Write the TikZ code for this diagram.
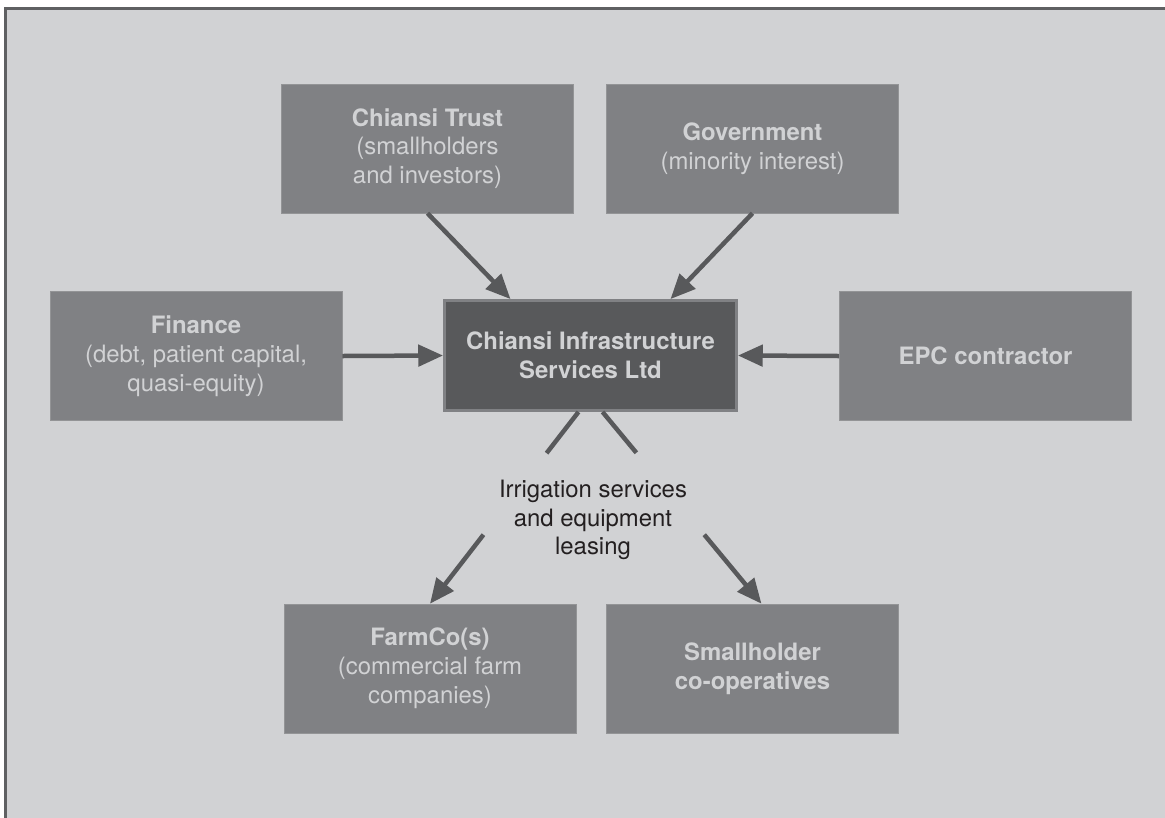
\documentclass[tikz,border=0pt]{standalone}
\usepackage{fontspec}
\setmainfont{TeX Gyre Heros}
\usetikzlibrary{arrows.meta,calc}
\definecolor{panelgray}{HTML}{D1D2D4}
\definecolor{boxgray}{HTML}{808184}
\definecolor{hubgray}{HTML}{58595B}
\definecolor{framegray}{HTML}{5F6062}
\definecolor{inkgray}{HTML}{231F20}
\tikzset{
  party/.style={rectangle, fill=boxgray, draw=boxgray!85!white, line width=0.5pt,
    text=panelgray, align=center, inner sep=0pt,
    minimum width=7.3cm, minimum height=3.22cm,
    font={\fontsize{17}{20.5}\selectfont}},
  hub/.style={party, fill=hubgray, draw=boxgray, line width=2pt, minimum height=2.75cm},
  flow/.style={draw=hubgray, line width=3.2pt, -{Triangle[length=6.2mm,width=5.3mm]}},
  stub/.style={draw=hubgray, line width=3.2pt},
}
\begin{document}
\begin{tikzpicture}[x=0.025cm, y=-0.025cm]
            \useasboundingbox (0,0) rectangle (1165,817);
            \draw[fill=panelgray, draw=framegray, line width=2.1pt] (5.5,8.5) rectangle (1185,835);
            % owners
            \node[party] (trust) at (427.5,148.5) {\textbf{Chiansi Trust}\\(smallholders\\and investors)};
            \node[party] (gov) at (752.5,148.5) {\textbf{Government}\\(minority interest)};
            % middle row
            \node[party] (finance) at (196,356) {\textbf{Finance}\\(debt, patient capital,\\quasi-equity)};
            \node[hub] (cis) at (590.5,355.5) {\textbf{Chiansi Infrastructure}\\\textbf{Services Ltd}};
            \node[party] (epc) at (985.5,356) {\textbf{EPC contractor}};
            % customers
            \node[party] (farmco) at (430,668.5) {\textbf{FarmCo(s)}\\(commercial farm\\companies)};
            \node[party] (coops) at (752.5,668.5) {\textbf{Smallholder}\\\textbf{co-operatives}};
            \node[text=inkgray, align=center, font={\fontsize{17}{20.5}\selectfont}] (lease) at (593,520) {Irrigation services\\and equipment\\leasing};
            \draw[flow] (trust.south) -- ($(cis.north)+(-80,0)$);
            \draw[flow] (gov.south) -- ($(cis.north)+(80,0)$);
            \draw[flow] (finance.east) -- (cis.west);
            \draw[flow] (epc.west) -- (cis.east);
            \coordinate (lstart) at ($(cis.south)+(-12,0)$);
            \coordinate (rstart) at ($(cis.south)+(12,0)$);
            \coordinate (rend) at ($(coops.north)+(9,0)$);
            \draw[stub] (lstart) -- ($(lstart)!0.215!(farmco.north)$);
            \draw[flow] ($(lstart)!0.64!(farmco.north)$) -- (farmco.north);
            \draw[stub] (rstart) -- ($(rstart)!0.213!(rend)$);
            \draw[flow] ($(rstart)!0.64!(rend)$) -- (rend);
        \end{tikzpicture}
\end{document}
